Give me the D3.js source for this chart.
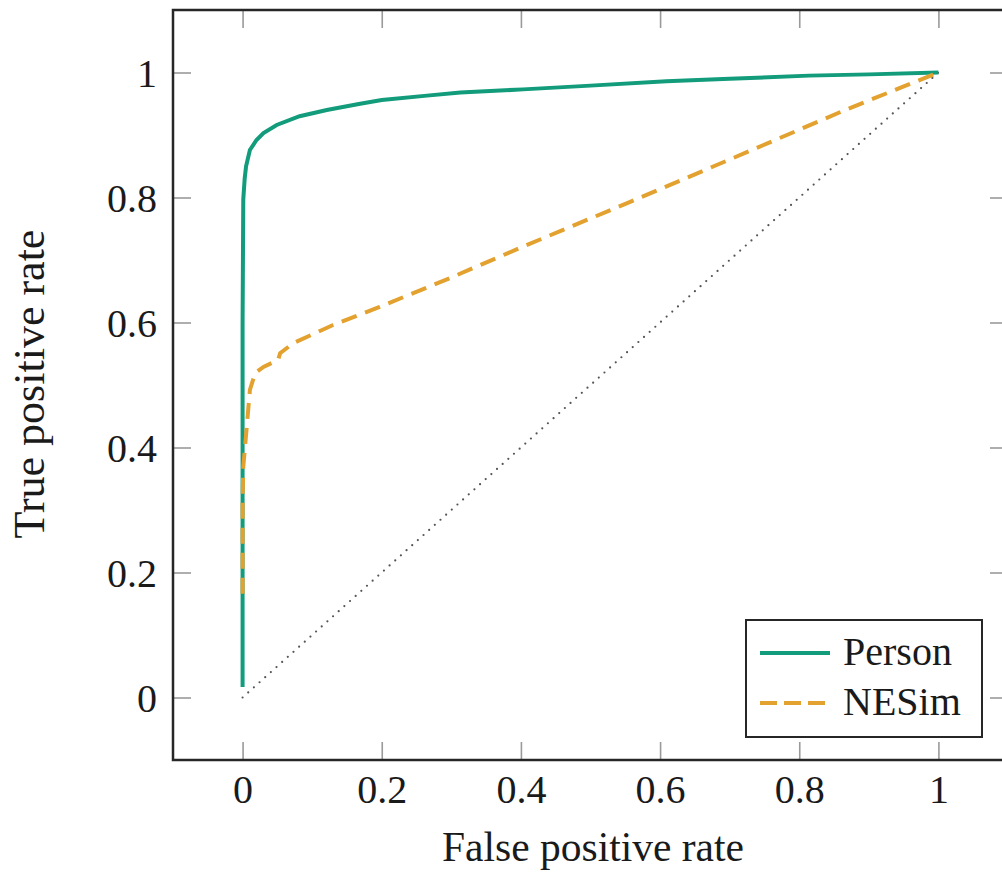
<!DOCTYPE html>
<head>
  <meta charset="utf-8">
  <script src="https://d3js.org/d3.v7.min.js"></script>
  <style>
    body { margin: 0; background: #fff; }
    text { font-family: "Liberation Serif", "DejaVu Serif", serif; fill: #1a1a1a; }
  </style>
</head>
<body>
<div id="chart"></div>
<script>
// ROC curves
// format: [false positive rate, true positive rate]
var personRoc = [
  [0, 0.017], [0, 0.3], [0, 0.6], [0.001, 0.797], [0.003, 0.83], [0.005, 0.85],
  [0.0105, 0.876], [0.02, 0.892], [0.03, 0.903], [0.049, 0.916], [0.082, 0.93],
  [0.121, 0.94], [0.169, 0.95], [0.2, 0.956], [0.265, 0.963], [0.313, 0.968],
  [0.403, 0.973], [0.5, 0.979], [0.609, 0.986], [0.7, 0.99], [0.814, 0.995],
  [0.9, 0.997], [1, 1]
];
var nesimRoc = [
  [0, 0.166], [0, 0.316], [0.001, 0.369], [0.006, 0.433], [0.0105, 0.492],
  [0.018, 0.519], [0.03, 0.529], [0.051, 0.54], [0.054, 0.551], [0.073, 0.567],
  [0.13, 0.596], [0.197, 0.625], [0.3, 0.672], [0.4, 0.72], [0.557, 0.793],
  [0.711, 0.866], [0.866, 0.94], [1, 1]
];
var chanceLine = [[0, 0], [1, 1]];
var seriesNames = ["Person", "NESim"];
var xTicks = [0, 0.2, 0.4, 0.6, 0.8, 1];
var yTicks = [0, 0.2, 0.4, 0.6, 0.8, 1];

var width = 1002, height = 875;
var margin = {left: 173, top: 10, right: 1008, bottom: 760}; // right frame sits just off-page

var svg = d3.select("#chart").append("svg")
    .attr("width", width)
    .attr("height", height);

var x = d3.scaleLinear().domain([-0.1, 1.1]).range([margin.left, margin.right]);
var y = d3.scaleLinear().domain([-0.1, 1.1]).range([margin.bottom, margin.top]);

var tickLen = 18;
var fmt = function(d) { return String(+d.toFixed(1)); };

// ticks (inside, mirrored on all sides)
var gx = svg.append("g").attr("transform", "translate(0," + margin.bottom + ")")
    .call(d3.axisBottom(x).tickValues(xTicks).tickSizeInner(-tickLen).tickSizeOuter(0)
      .tickFormat(fmt).tickPadding(12));
var gxTop = svg.append("g").attr("transform", "translate(0," + margin.top + ")")
    .call(d3.axisTop(x).tickValues(xTicks).tickSizeInner(-tickLen).tickSizeOuter(0).tickFormat(""));
var gy = svg.append("g").attr("transform", "translate(" + margin.left + ",0)")
    .call(d3.axisLeft(y).tickValues(yTicks).tickSizeInner(-tickLen).tickSizeOuter(0)
      .tickFormat(fmt).tickPadding(16));
var gyRight = svg.append("g").attr("transform", "translate(" + margin.right + ",0)")
    .call(d3.axisRight(y).tickValues(yTicks).tickSizeInner(-tickLen).tickSizeOuter(0).tickFormat(""));

[gx, gxTop, gy, gyRight].forEach(function(g) {
  g.select(".domain").remove();
  g.selectAll(".tick line").attr("stroke", "#9a9a9a").attr("stroke-width", 1.6);
  g.selectAll("text").attr("font-size", 40).attr("fill", "#1a1a1a")
   .style("font-family", "'Liberation Serif', serif");
});
gx.selectAll("text").attr("dy", "0.78em");
gy.selectAll("text").attr("dy", "0.34em");

// frame
svg.append("rect")
    .attr("x", margin.left).attr("y", margin.top)
    .attr("width", margin.right - margin.left).attr("height", margin.bottom - margin.top)
    .attr("fill", "none").attr("stroke", "#262626").attr("stroke-width", 2.5);

var line = d3.line().x(function(d) { return x(d[0]); }).y(function(d) { return y(d[1]); });

// chance diagonal
svg.append("path").datum(chanceLine)
    .attr("d", line).attr("fill", "none")
    .attr("stroke", "#555").attr("stroke-width", 2.2)
    .attr("stroke-linecap", "round").attr("stroke-dasharray", "0,7.6");

svg.append("path").datum(personRoc)
    .attr("d", line).attr("fill", "none")
    .attr("stroke", "#129c7b").attr("stroke-width", 4);

svg.append("path").datum(nesimRoc)
    .attr("d", line).attr("fill", "none")
    .attr("stroke", "#e3a12f").attr("stroke-width", 4)
    .attr("stroke-dasharray", "16,9");

// axis titles
svg.append("text")
    .attr("x", 593).attr("y", 861)
    .attr("text-anchor", "middle").attr("font-size", 41.5)
    .text("False positive rate");
svg.append("text")
    .attr("transform", "translate(44,384) rotate(-90)")
    .attr("text-anchor", "middle").attr("font-size", 44)
    .text("True positive rate");

// legend
var legend = svg.append("g");
legend.append("rect")
    .attr("x", 746).attr("y", 620).attr("width", 236).attr("height", 117)
    .attr("fill", "#fff").attr("stroke", "#262626").attr("stroke-width", 2);
var legendStyles = [
  {color: "#129c7b", dash: null},
  {color: "#e3a12f", dash: "17,7"}
];
seriesNames.forEach(function(name, i) {
  var ly = 653 + i * 50;
  legend.append("line")
      .attr("x1", 760).attr("x2", 830).attr("y1", ly).attr("y2", ly)
      .attr("stroke", legendStyles[i].color).attr("stroke-width", 4)
      .attr("stroke-dasharray", legendStyles[i].dash);
  legend.append("text")
      .attr("x", 843).attr("y", ly + 12)
      .attr("font-size", 40)
      .text(name);
});
</script>
</body>
</html>
